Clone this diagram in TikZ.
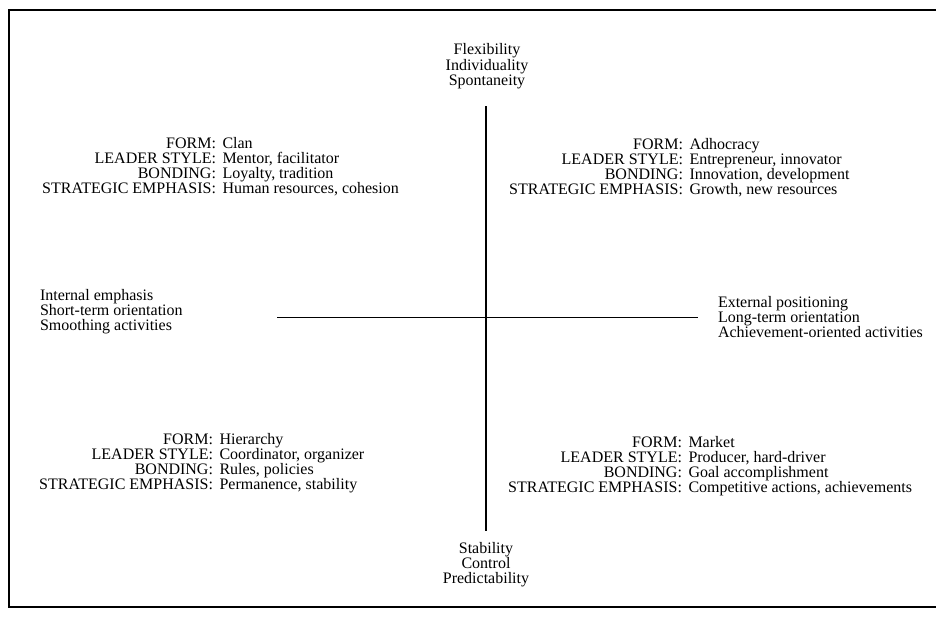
\documentclass[tikz,border=0pt]{standalone}
\usepackage{fontspec}
\setmainfont{Liberation Serif}
% one block of four "KEY: value" lines, colons right-aligned on a common column
\newcommand\quadblock[7]{%
  \foreach \k/\v [count=\i from 0] in {FORM:/{#4}, LEADER STYLE:/{#5}, BONDING:/{#6}, STRATEGIC EMPHASIS:/{#7}} {
    \node[keytext] (#1k\i) at (#2, #3+15*\i) {\k};
    \node[valtext] (#1v\i) at (#2+6.5, #3+15*\i) {\v};
  }}
\begin{document}
\begin{tikzpicture}[x=1pt,y=-1pt,
  every node/.style={inner sep=0pt,outer sep=0pt,font=\fontsize{16}{15}\selectfont},
  keytext/.style={anchor=base east},
  valtext/.style={anchor=base west},
  sidetext/.style={anchor=base west},
  poletext/.style={anchor=base},
  axisline/.style={line width=1.5pt},
  frameline/.style={line width=2.4pt}]
\useasboundingbox (0,0) rectangle (936,619);

% open frame (left, top, bottom)
\coordinate (ftr) at (936,10);
\coordinate (ftl) at (9,10);
\coordinate (fbl) at (9,607);
\coordinate (fbr) at (936,607);
\draw[frameline] (ftr) -- (ftl) -- (fbl) -- (fbr);

% axes
\coordinate (vtop) at (486,106);
\coordinate (vbot) at (486,531);
\coordinate (hleft) at (277,317.5);
\coordinate (hright) at (698,317.5);
\draw[axisline] (vtop) -- (vbot);
\draw[axisline] (hleft) -- (hright);

% poles of the vertical axis
\node[poletext] (flex) at (487,54.5) {Flexibility};
\node[poletext] (indiv) at (487,70) {Individuality};
\node[poletext] (spont) at (487,85.5) {Spontaneity};
\node[poletext] (stab) at (486,553) {Stability};
\node[poletext] (ctrl) at (486,568) {Control};
\node[poletext] (pred) at (486,583) {Predictability};

% poles of the horizontal axis
\node[sidetext] (int) at (40,300.5) {Internal emphasis};
\node[sidetext] (short) at (40,315.5) {Short-term orientation};
\node[sidetext] (smooth) at (40,330.5) {Smoothing activities};
\node[sidetext] (ext) at (718,307) {External positioning};
\node[sidetext] (long) at (718,322) {Long-term orientation};
\node[sidetext] (achv) at (718,337) {Achievement-oriented activities};

% the four quadrants
\quadblock{clan}{216}{148.5}{Clan}{Mentor, facilitator}{Loyalty, tradition}{Human resources, cohesion}
\quadblock{adho}{683}{149}{Adhocracy}{Entrepreneur, innovator}{Innovation, development}{Growth, new resources}
\quadblock{hier}{213}{444}{Hierarchy}{Coordinator, organizer}{Rules, policies}{Permanence, stability}
\quadblock{mark}{682}{447}{Market}{Producer, hard-driver}{Goal accomplishment}{Competitive actions, achievements}
\end{tikzpicture}
\end{document}
